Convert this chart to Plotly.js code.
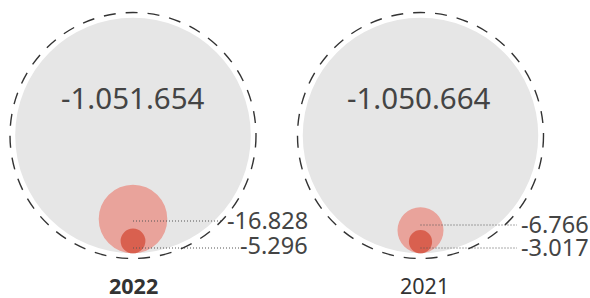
<!DOCTYPE html>
<html><head><meta charset="utf-8">
<script src="https://cdn.plot.ly/plotly-3.0.1.min.js"></script>
<style>html,body{margin:0;padding:0;background:#fff}#chart{width:590px;height:298px}</style>
</head><body><div id="chart"></div>
<script>
// Data
const years = ['2022', '2021'];
const totalValues = [-1051654, -1050664];
const midValues = [-16828, -6766];
const smallValues = [-5296, -3017];

// Layout / style (pixel coordinates)
const W = 590, H = 298;
const cx = [133, 420.5];
const cy = 135.5;
const bigR = 117.8;          // radius of the largest total
const dashR = 123;
const midR = [34.3, 23];     // display radii
const smallR = [12.4, 11.6];
const bottom = cy + bigR;

function fmt(v) {
  const s = Math.abs(v).toString().replace(/\B(?=(\d{3})+(?!\d))/g, '.');
  return (v < 0 ? '-' : '') + s;
}
const maxAbs = Math.max(...totalValues.map(Math.abs));
const rTotal = v => bigR * Math.sqrt(Math.abs(v) / maxAbs);

const shapes = [];
const traces = [];
const FONT = 'Noto Sans, Open Sans, sans-serif';
const TXT = '#444';

years.forEach((y, i) => {
  const rt = rTotal(totalValues[i]);
  const c = cx[i];
  shapes.push({type:'circle', xref:'x', yref:'y', x0:c-dashR, x1:c+dashR, y0:cy-dashR, y1:cy+dashR,
    line:{color:'#333', width:1.4, dash:'12px,10px'}, fillcolor:'rgba(0,0,0,0)', layer:'above'});
  shapes.push({type:'circle', xref:'x', yref:'y', x0:c-rt, x1:c+rt, y0:cy-rt, y1:cy+rt,
    line:{width:0}, fillcolor:'#e6e6e6', layer:'below'});
  const mr = midR[i], sr = smallR[i];
  shapes.push({type:'circle', xref:'x', yref:'y', x0:c-mr, x1:c+mr, y0:bottom-2*mr, y1:bottom,
    line:{width:0}, fillcolor:'#e9a39b', layer:'below'});
  shapes.push({type:'circle', xref:'x', yref:'y', x0:c-sr, x1:c+sr, y0:bottom-2*sr, y1:bottom,
    line:{width:0}, fillcolor:'#d9604f', layer:'below'});
});

const labelX = [309, 590];
const lineEndMid = [222, 517];
const lineEndSmall = [240, 517];
const midY = [221, 225];
const smallY = [248, 248];
const midTxtY = [220, 224];
const smallTxtY = [245, 247];

years.forEach((y, i) => {
  traces.push({x:[cx[i], lineEndMid[i]], y:[midY[i], midY[i]], mode:'lines',
    line:{color:'#555', width:1, dash:'1px,2px'}, hoverinfo:'skip'});
  traces.push({x:[cx[i], lineEndSmall[i]], y:[smallY[i], smallY[i]], mode:'lines',
    line:{color:'#555', width:1, dash:'1px,2px'}, hoverinfo:'skip'});
});

const annotations = [];
years.forEach((y, i) => {
  annotations.push({x:cx[i] - (i ? 2 : 0), y:97, xref:'x', yref:'y', text:fmt(totalValues[i]), showarrow:false,
    font:{family:FONT, size:29.5, color:TXT}, xanchor:'center', yanchor:'middle'});
  annotations.push({x:labelX[i], y:midTxtY[i], xref:'x', yref:'y', text:fmt(midValues[i]), showarrow:false,
    font:{family:FONT, size:23.5, color:TXT}, xanchor:'right', yanchor:'middle', borderpad:0});
  annotations.push({x:labelX[i], y:smallTxtY[i], xref:'x', yref:'y', text:fmt(smallValues[i]), showarrow:false,
    font:{family:FONT, size:23.5, color:TXT}, xanchor:'right', yanchor:'middle', borderpad:0});
  annotations.push({x:cx[i] + (i ? 4 : 0.5), y:285, xref:'x', yref:'y',
    text: i === 0 ? '<b>' + y + '</b>' : y, showarrow:false,
    font:{family:FONT, size:21.5, color:'#333'}, xanchor:'center', yanchor:'middle', borderpad:0});
});

const layout = {
  width:W, height:H, margin:{l:0,r:0,t:0,b:0},
  paper_bgcolor:'#fff', plot_bgcolor:'#fff', showlegend:false,
  xaxis:{range:[0,W], visible:false, fixedrange:true},
  yaxis:{range:[H,0], visible:false, fixedrange:true},
  shapes, annotations
};
Plotly.newPlot('chart', traces, layout, {staticPlot:true, displayModeBar:false});
</script></body></html>
